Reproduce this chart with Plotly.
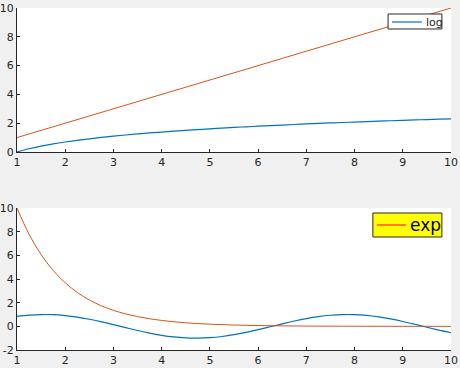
import plotly.graph_objects as go
from plotly.subplots import make_subplots

x = [1, 1.25, 1.5, 1.75, 2, 2.25, 2.5, 2.75, 3, 3.25, 3.5, 3.75, 4, 4.25, 4.5, 4.75,
     5, 5.25, 5.5, 5.75, 6, 6.25, 6.5, 6.75, 7, 7.25, 7.5, 7.75, 8, 8.25, 8.5, 8.75,
     9, 9.25, 9.5, 9.75, 10]
log_vals = [0, 0.223, 0.405, 0.560, 0.693, 0.811, 0.916, 1.012, 1.099, 1.179, 1.253,
            1.322, 1.386, 1.447, 1.504, 1.558, 1.609, 1.658, 1.705, 1.749, 1.792, 1.833,
            1.872, 1.910, 1.946, 1.981, 2.015, 2.048, 2.079, 2.110, 2.140, 2.169, 2.197,
            2.225, 2.251, 2.277, 2.303]
line_x = [1, 10]
line_y = [1, 10]
sin_vals = [0.841, 0.949, 0.997, 0.984, 0.909, 0.778, 0.598, 0.382, 0.141, -0.108,
            -0.351, -0.572, -0.757, -0.895, -0.978, -0.999, -0.959, -0.859, -0.706,
            -0.508, -0.279, -0.033, 0.215, 0.451, 0.657, 0.823, 0.938, 0.995, 0.989,
            0.922, 0.798, 0.625, 0.412, 0.174, -0.075, -0.319, -0.544]
exp_vals = [10, 7.788, 6.065, 4.724, 3.679, 2.865, 2.231, 1.738, 1.353, 1.054, 0.821,
            0.639, 0.498, 0.388, 0.302, 0.235, 0.183, 0.143, 0.111, 0.087, 0.067, 0.052,
            0.041, 0.032, 0.025, 0.019, 0.015, 0.012, 0.009, 0.007, 0.006, 0.004, 0.003,
            0.003, 0.002, 0.002, 0.001]
y2_ticks = [-2, 0, 2, 4, 6, 8, 10]
y2_labels = ["-2", "0", "2", "4", "6", "8", "10"]

BLUE = "#0072BD"
ORANGE = "#D95319"
AX = "#262626"
FONT = "DejaVu Sans"

fig = make_subplots(rows=2, cols=1)
fig.add_trace(go.Scatter(x=x, y=log_vals, mode="lines", line=dict(color=BLUE, width=1.2, shape="spline"), showlegend=False), row=1, col=1)
fig.add_trace(go.Scatter(x=line_x, y=line_y, mode="lines", line=dict(color=ORANGE, width=1), showlegend=False), row=1, col=1)
fig.add_trace(go.Scatter(x=x, y=sin_vals, mode="lines", line=dict(color=BLUE, width=1.2, shape="spline"), showlegend=False), row=2, col=1)
fig.add_trace(go.Scatter(x=x, y=exp_vals, mode="lines", line=dict(color=ORANGE, width=1, shape="spline"), showlegend=False), row=2, col=1)

axis_common = dict(showgrid=False, zeroline=False, showline=True, linecolor=AX, linewidth=1,
                   ticks="inside", ticklen=3, tickcolor=AX, automargin=False,
                   tickfont=dict(size=11, color=AX, family=FONT), mirror=False)
fig.update_layout(
    width=460, height=368,
    margin=dict(l=17, r=9, t=8, b=18),
    paper_bgcolor="#f0f0f0", plot_bgcolor="white",
    xaxis=dict(domain=[0, 1], range=[1, 10], dtick=1, **axis_common),
    yaxis=dict(domain=[0.579, 1], range=[0, 10], dtick=2, **axis_common),
    xaxis2=dict(domain=[0, 1], range=[1, 10], dtick=1, **axis_common),
    yaxis2=dict(domain=[0, 0.415], range=[-2, 10], tickmode="array", tickvals=y2_ticks,
                ticktext=y2_labels, **axis_common),
    showlegend=False,
)

# legend 1
fig.add_shape(type="rect", xref="paper", yref="paper", x0=0.855, x1=0.979, y0=0.9386, y1=0.9825,
              line=dict(color=AX, width=1), fillcolor="white")
fig.add_shape(type="line", xref="paper", yref="paper", x0=0.864, x1=0.933, y0=0.959, y1=0.959,
              line=dict(color=BLUE, width=1.2))
fig.add_annotation(xref="paper", yref="paper", x=0.937, y=0.959, text="log", showarrow=False,
                   xanchor="left", yanchor="middle", font=dict(size=11, color=AX, family=FONT))
# legend 2
fig.add_shape(type="rect", xref="paper", yref="paper", x0=0.820, x1=0.979, y0=0.3304, y1=0.4006,
              line=dict(color=AX, width=1), fillcolor="yellow")
fig.add_shape(type="line", xref="paper", yref="paper", x0=0.829, x1=0.896, y0=0.3655, y1=0.3655,
              line=dict(color="red", width=1))
fig.add_annotation(xref="paper", yref="paper", x=0.902, y=0.3655, text="exp", showarrow=False,
                   xanchor="left", yanchor="middle", font=dict(size=17, color="black", family=FONT))

fig.write_html("out.html")
